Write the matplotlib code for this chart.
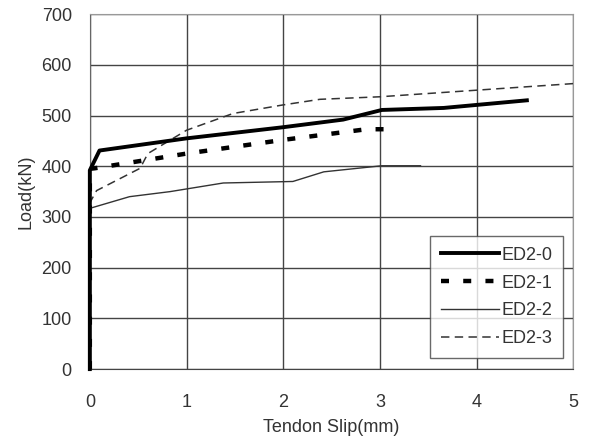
import matplotlib.pyplot as plt

# tendon slip (mm) and load (kN)
x0 = [0, 0, 0.1, 1.0, 2.0, 2.62, 3.02, 3.66, 4.52]
y0 = [0, 392, 431, 455, 477, 492, 511, 515, 530]

x1 = [0, 0, 0.05, 1.0, 2.0, 2.86, 3.14]
y1 = [0, 395, 396, 425, 452, 473, 473]

x2 = [0, 0, 0.41, 0.83, 1.38, 2.1, 2.42, 3.02, 3.42]
y2 = [0, 317, 340, 350, 367, 370, 389, 401, 401]

x3 = [0, 0, 0.07, 0.52, 0.6, 1.0, 1.48, 2.0, 2.38, 3.0, 4.0, 5.0]
y3 = [0, 328, 352, 396, 425, 471, 504, 521, 532, 537, 550, 563]

labels = ["ED2-0", "ED2-1", "ED2-2", "ED2-3"]

plt.rcParams['font.family'] = ['Liberation Sans', 'DejaVu Sans']

fig = plt.figure(figsize=(5.91, 4.41), dpi=100)
ax = fig.add_axes([0.152, 0.163, 0.818, 0.805])

ax.plot(x1, y1, color="black", lw=3.2, linestyle=(0, (1.8, 3.2)),
        dash_capstyle="butt", label=labels[1], zorder=3)
ax.plot(x2, y2, color="#333333", lw=1.0, label=labels[2], zorder=3)
ax.plot(x3, y3, color="#333333", lw=1.1, linestyle=(0, (5.5, 3.5)),
        label=labels[3], zorder=3)
ax.plot(x0, y0, color="black", lw=2.8, label=labels[0], zorder=4,
        clip_on=False)

ax.set_xlim(0, 5)
ax.set_ylim(0, 700)
ax.set_xticks(range(0, 6))
ax.set_yticks(range(0, 701, 100))
ax.grid(True, color="#444444", lw=1.0)
ax.set_axisbelow(True)
for s in ax.spines.values():
    s.set_color("#999999")
ax.spines["left"].set_color("#666666")
ax.spines["bottom"].set_color("#444444")
ax.tick_params(length=0, labelsize=13, colors="#333333")
ax.tick_params(axis="x", pad=18)
ax.tick_params(axis="y", pad=13)

ax.set_xlabel("Tendon Slip(mm)", fontsize=13, color="#333333", labelpad=6)
ax.set_ylabel("Load(kN)", fontsize=13, color="#333333", labelpad=5)

# legend in the order ED2-0 .. ED2-3
h, l = ax.get_legend_handles_labels()
order = [3, 0, 1, 2]
leg = ax.legend([h[i] for i in order], [l[i] for i in order],
                loc="lower right", bbox_to_anchor=(0.979, 0.031),
                borderaxespad=0, fontsize=13,
                frameon=True, fancybox=False, edgecolor="#444444",
                handlelength=3.2, handletextpad=0.15, labelspacing=0.6,
                borderpad=0.6)
leg.get_frame().set_linewidth(1.0)
leg.set_zorder(5)
for t in leg.get_texts():
    t.set_color("#333333")

fig.savefig("out.png", dpi=100)
